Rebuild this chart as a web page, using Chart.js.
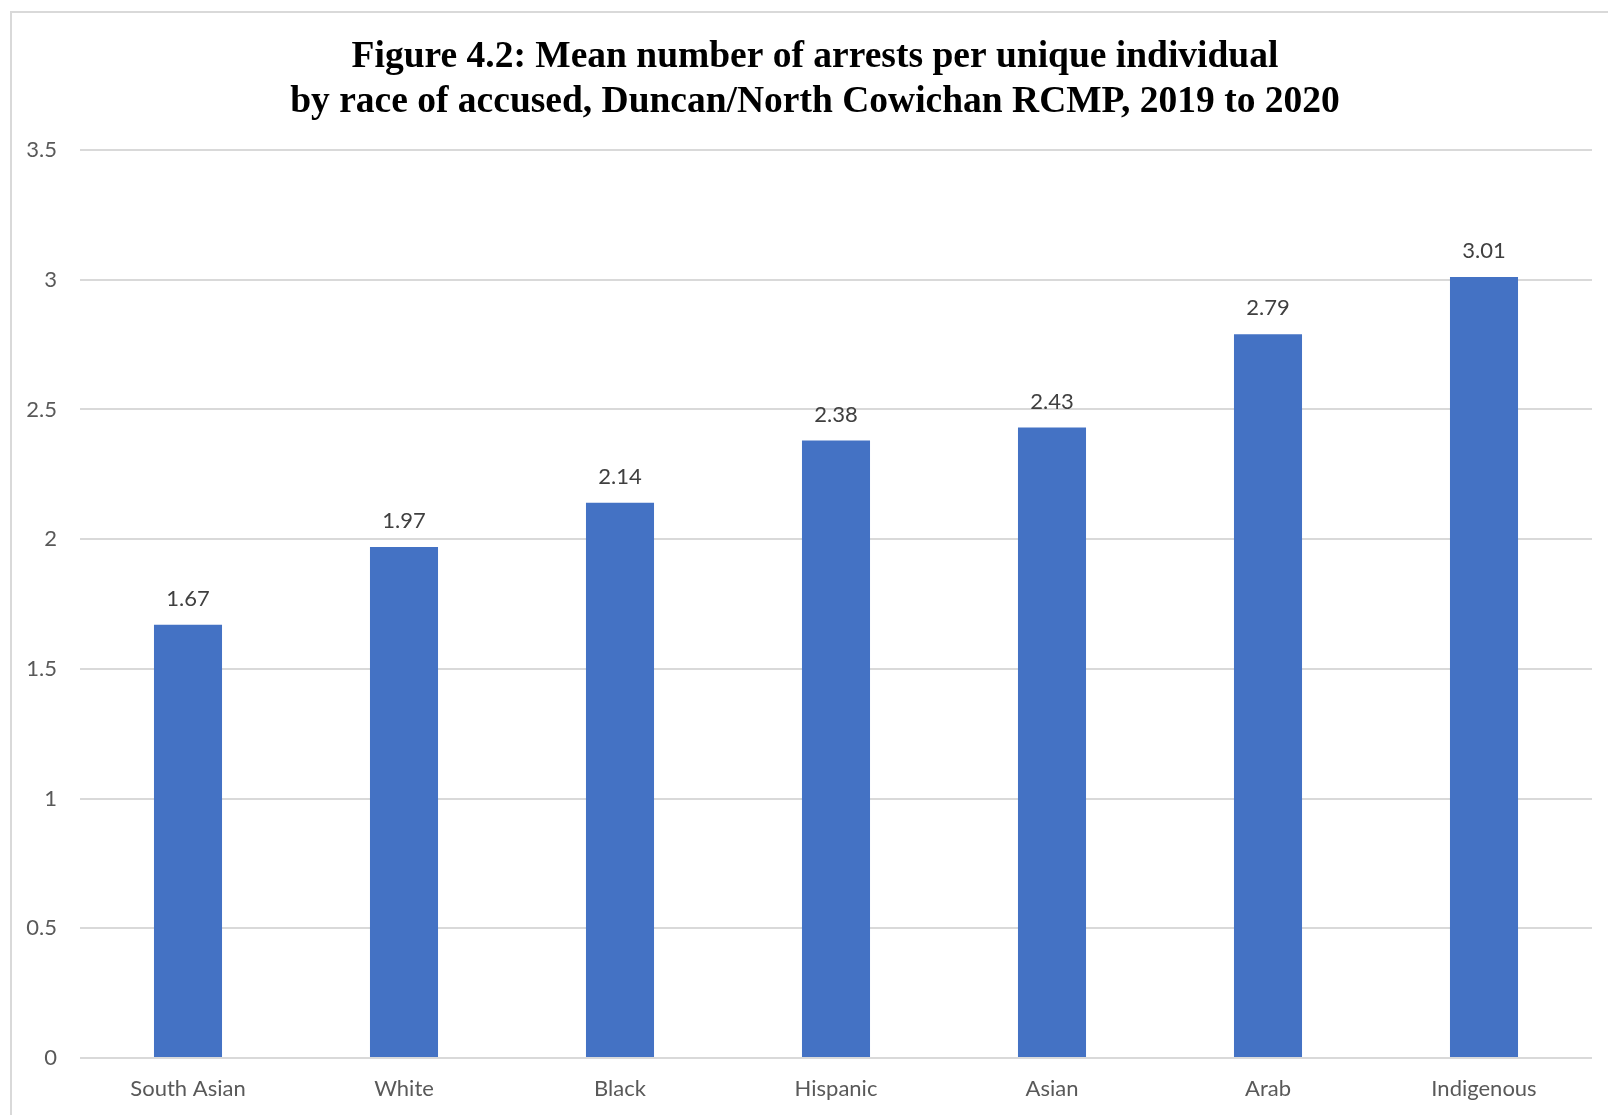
<!DOCTYPE html>
<html>
<head>
<meta charset="utf-8">
<script src="https://cdn.jsdelivr.net/npm/chart.js@4.4.1/dist/chart.umd.min.js"></script>
<style>
  html, body { margin: 0; padding: 0; background: #ffffff; overflow: hidden; }
  #frame { position: absolute; left: 10px; top: 11px; width: 1700px; height: 1200px;
           border-left: 2px solid #d9d9d9; border-top: 2px solid #d9d9d9; box-sizing: border-box; }
  #wrap { position: absolute; left: 0; top: 0; width: 1608px; height: 1115px; }
</style>
</head>
<body>
<div id="frame"></div>
<div id="wrap"><canvas id="c" width="1608" height="1115"></canvas></div>
<script>
const titleLines = ["Figure 4.2: Mean number of arrests per unique individual",
                    "by race of accused, Duncan/North Cowichan RCMP, 2019 to 2020"];
const categories = ["South Asian", "White", "Black", "Hispanic", "Asian", "Arab", "Indigenous"];
const meanArrests = [1.67, 1.97, 2.14, 2.38, 2.43, 2.79, 3.01];
const yTicks = [0, 0.5, 1, 1.5, 2, 2.5, 3, 3.5];

const valueLabels = {
  id: 'valueLabels',
  afterDatasetsDraw(chart) {
    const ctx = chart.ctx;
    const meta = chart.getDatasetMeta(0);
    ctx.save();
    ctx.font = '22px Lato';
    ctx.fillStyle = '#404040';
    ctx.textAlign = 'center';
    ctx.textBaseline = 'alphabetic';
    meta.data.forEach((bar, i) => {
      ctx.fillText(meanArrests[i].toFixed(2), bar.x, bar.y - 19);
    });
    ctx.restore();
  }
};

// shift the title block so it is centred inside the bordered frame like the original
const titleShift = {
  id: 'titleShift',
  afterLayout(chart) {
    const t = chart.titleBlock;
    if (t) { t.left = 38; t.width = t.right - t.left; }
  }
};

new Chart(document.getElementById('c'), {
  type: 'bar',
  data: {
    labels: categories,
    datasets: [{
      data: meanArrests,
      backgroundColor: '#4472C4',
      borderWidth: 0,
      categoryPercentage: 1,
      barPercentage: 0.315
    }]
  },
  options: {
    responsive: false,
    animation: false,
    devicePixelRatio: 1,
    layout: { padding: { left: 0, right: 16, top: 0, bottom: 0 } },
    plugins: {
      legend: { display: false },
      tooltip: { enabled: false },
      title: {
        display: true,
        text: titleLines,
        color: '#000000',
        font: { family: 'Liberation Serif', size: 37.5, weight: 'bold', lineHeight: 1.2 },
        padding: { top: 35, bottom: 25 }
      }
    },
    scales: {
      x: {
        grid: { display: false, drawTicks: false },
        border: { display: false },
        ticks: { color: '#595959', font: { family: 'Lato', size: 22 }, padding: 18, maxRotation: 0 },
        afterFit(scale) { scale.height = 57; }
      },
      y: {
        min: 0, max: 3.5,
        afterBuildTicks(scale) { scale.ticks = yTicks.map(v => ({ value: v })); },
        grid: { color: '#d9d9d9', lineWidth: 2, drawTicks: false },
        border: { display: false },
        ticks: { color: '#595959', font: { family: 'Lato', size: 22 }, padding: 23,
                 callback: v => String(v) },
        afterFit(scale) { scale.width = 80; }
      }
    }
  },
  plugins: [valueLabels, titleShift]
});
</script>
</body>
</html>
